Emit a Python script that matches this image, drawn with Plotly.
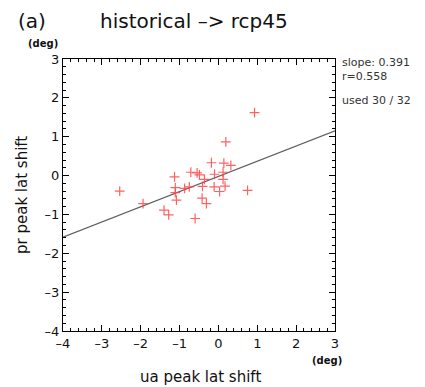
import plotly.graph_objects as go

ua_shift = [0.93, 0.19, -0.18, 0.14, 0.32, -0.71, -0.55, -0.49, -0.10, 0.12,
            -1.13, -0.36, 0.12, -1.11, -0.87, -0.75, -0.41, -0.11, 0.17, -1.11,
            0.03, 0.75, -2.54, -1.94, -1.08, -0.42, -0.31, -1.40, -1.28, -0.60]
pr_shift = [1.62, 0.865, 0.33, 0.32, 0.26, 0.086, 0.07, 0.017, 0.034, 0.086,
            -0.034, -0.10, -0.10, -0.31, -0.33, -0.29, -0.28, -0.29, -0.27, -0.44,
            -0.41, -0.38, -0.40, -0.72, -0.63, -0.58, -0.72, -0.89, -1.01, -1.105]
slope = 0.391
intercept = -0.02
r_value = 0.558
used, total = 30, 32
x_range = [-4, 3]
y_range = [-4, 3]
ticks = [-4, -3, -2, -1, 0, 1, 2, 3]

FONT = "DejaVu Sans"

fig = go.Figure()
fig.add_trace(go.Scatter(
    x=x_range, y=[slope * v + intercept for v in x_range],
    mode="lines", line=dict(color="#606060", width=1.2), hoverinfo="skip",
))
fig.add_trace(go.Scatter(
    x=ua_shift, y=pr_shift, mode="markers",
    marker=dict(symbol="cross-thin", size=7,
                line=dict(color="rgba(255,70,70,0.85)", width=1.2)),
))

axis_common = dict(
    tickvals=ticks, ticktext=[("\u2013" + str(-t)) if t < 0 else str(t) for t in ticks],
    ticks="inside", ticklen=6, tickwidth=1, tickcolor="black",
    showline=True, linecolor="black", linewidth=1.2, mirror="allticks",
    showgrid=False, zeroline=False,
    minor=dict(ticks="inside", ticklen=3, tickwidth=1, tickcolor="black", dtick=0.2, showgrid=False),
    tickfont=dict(family=FONT, size=13, color="#111"),
)

fig.update_xaxes(**axis_common)
fig.update_yaxes(**axis_common)
fig.update_xaxes(range=x_range)
fig.update_yaxes(range=y_range)

L, T, W, H = 63, 59, 272, 272


def px_to_paper(x, y):
    return (x - L) / W, 1 - (y - T) / H


ann = [
    dict(text="(a)", x=16, y=21, size=20),
    dict(text="historical \u2013> rcp45", x=98, y=21, size=20),
    dict(text="<b>(deg)</b>", x=26, y=44, size=10),
    dict(text="slope: %.3f" % slope, x=340, y=63, size=11, color="#333"),
    dict(text="r=%.3f" % r_value, x=340, y=76, size=11, color="#333"),
    dict(text="used %d / %d" % (used, total), x=340, y=100, size=11, color="#333"),
    dict(text="<b>(deg)</b>", x=310, y=360, size=10),
]
annotations = []
for a in ann:
    px, py = px_to_paper(a["x"], a["y"])
    annotations.append(dict(
        text=a["text"], xref="paper", yref="paper", x=px, y=py,
        xanchor="left", yanchor="middle", showarrow=False,
        font=dict(family=FONT, size=a["size"], color=a.get("color", "#111")),
    ))
px, py = px_to_paper(200, 377)
annotations.append(dict(
    text="ua peak lat shift", xref="paper", yref="paper", x=px, y=py,
    xanchor="center", yanchor="middle", showarrow=False,
    font=dict(family=FONT, size=15, color="#111"),
))
px, py = px_to_paper(22, 195)
annotations.append(dict(
    text="pr peak lat shift", xref="paper", yref="paper", x=px, y=py,
    xanchor="center", yanchor="middle", textangle=-90, showarrow=False,
    font=dict(family=FONT, size=15, color="#111"),
))

fig.update_layout(
    width=425, height=387,
    margin=dict(l=L, r=425 - L - W, t=T, b=387 - T - H),
    paper_bgcolor="white", plot_bgcolor="white",
    showlegend=False, annotations=annotations,
)

fig.write_html("out.html", config={"displayModeBar": False},
               post_script="document.body.style.margin='0';document.body.style.overflow='hidden';")
